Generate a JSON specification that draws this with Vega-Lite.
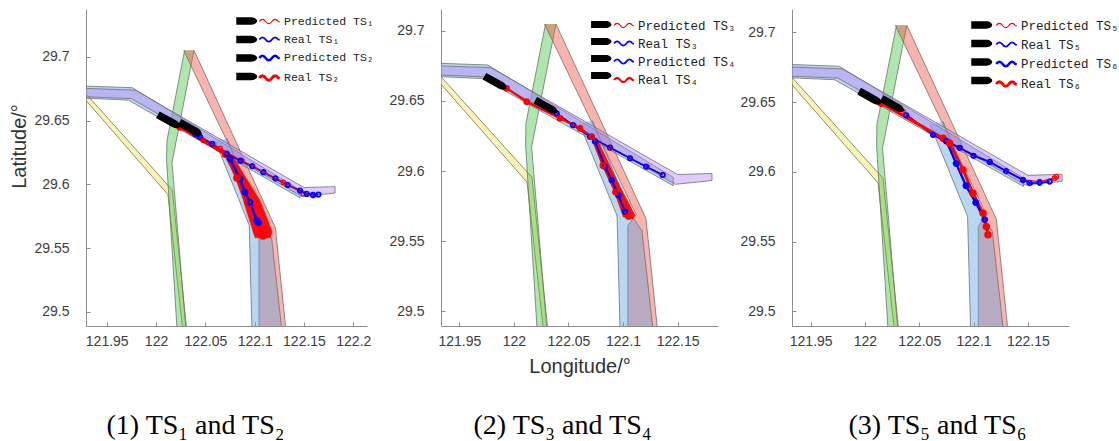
{
  "$schema": "https://vega.github.io/schema/vega-lite/v6.json",
  "background": "white",
  "padding": {"left": 9, "top": 9, "right": 0, "bottom": 0},
  "bounds": "flush",
  "spacing": 74,
  "config": {
    "view": {"stroke": null},
    "axis": {
      "grid": false,
      "domainColor": "#8c8c8c",
      "tickColor": "#8c8c8c",
      "tickSize": -4,
      "labelPadding": 12,
      "labelFont": "Liberation Sans",
      "labelFontSize": 14,
      "labelColor": "#3c3c3c",
      "labelOverlap": false,
      "labelFlush": false,
      "titleFont": "Liberation Sans",
      "titleFontSize": 20,
      "titleFontWeight": "normal",
      "titleColor": "#333333"
    },
    "legend": {"padding": 0, "rowPadding": 0, "offset": 0, "titlePadding": 0, "labelFont": "Liberation Mono", "labelFontSize": 12.5, "labelColor": "#222222"}
  },
  "datasets": {
    "channels": [
      {"id": "Y", "k": 1, "lon": 121.9, "lat": 29.696},
      {"id": "Y", "k": 2, "lon": 122.0165, "lat": 29.5955},
      {"id": "Y", "k": 3, "lon": 122.032, "lat": 29.48},
      {"id": "Y", "k": 4, "lon": 122.028, "lat": 29.48},
      {"id": "Y", "k": 5, "lon": 122.012, "lat": 29.592},
      {"id": "Y", "k": 6, "lon": 121.9, "lat": 29.6915},
      {"id": "G", "k": 1, "lon": 122.029, "lat": 29.705},
      {"id": "G", "k": 2, "lon": 122.011, "lat": 29.634},
      {"id": "G", "k": 3, "lon": 122.0107, "lat": 29.6187},
      {"id": "G", "k": 4, "lon": 122.0218, "lat": 29.48},
      {"id": "G", "k": 5, "lon": 122.031, "lat": 29.48},
      {"id": "G", "k": 6, "lon": 122.0162, "lat": 29.6171},
      {"id": "G", "k": 7, "lon": 122.0385, "lat": 29.705},
      {"id": "R", "k": 1, "lon": 122.028, "lat": 29.705},
      {"id": "R", "k": 2, "lon": 122.112, "lat": 29.569},
      {"id": "R", "k": 3, "lon": 122.1044, "lat": 29.561},
      {"id": "R", "k": 4, "lon": 122.1044, "lat": 29.48},
      {"id": "R", "k": 5, "lon": 122.1325, "lat": 29.48},
      {"id": "R", "k": 6, "lon": 122.121, "lat": 29.566},
      {"id": "R", "k": 7, "lon": 122.0385, "lat": 29.705},
      {"id": "B2", "k": 1, "lon": 122.06, "lat": 29.634},
      {"id": "B2", "k": 2, "lon": 122.0945, "lat": 29.568},
      {"id": "B2", "k": 3, "lon": 122.0975, "lat": 29.48},
      {"id": "B2", "k": 4, "lon": 122.1284, "lat": 29.48},
      {"id": "B2", "k": 5, "lon": 122.1173, "lat": 29.5573},
      {"id": "B2", "k": 6, "lon": 122.108, "lat": 29.568},
      {"id": "B2", "k": 7, "lon": 122.072, "lat": 29.636},
      {"id": "B1", "k": 1, "lon": 121.9, "lat": 29.6778},
      {"id": "B1", "k": 2, "lon": 121.976, "lat": 29.6757},
      {"id": "B1", "k": 3, "lon": 122.146, "lat": 29.5955},
      {"id": "B1", "k": 4, "lon": 122.146, "lat": 29.5895},
      {"id": "B1", "k": 5, "lon": 121.972, "lat": 29.666},
      {"id": "B1", "k": 6, "lon": 121.9, "lat": 29.6685},
      {"id": "V", "k": 1, "lon": 121.9, "lat": 29.676},
      {"id": "V", "k": 2, "lon": 121.979, "lat": 29.6738},
      {"id": "V", "k": 3, "lon": 122.15, "lat": 29.5975},
      {"id": "V", "k": 4, "lon": 122.1815, "lat": 29.5982},
      {"id": "V", "k": 5, "lon": 122.1815, "lat": 29.5932},
      {"id": "V", "k": 6, "lon": 122.148, "lat": 29.5905},
      {"id": "V", "k": 7, "lon": 121.975, "lat": 29.6672},
      {"id": "V", "k": 8, "lon": 121.9, "lat": 29.6695}
    ],
    "envelopes": [
      {"p": 1, "k": 1, "lon": 122.072, "lat": 29.6226},
      {"p": 1, "k": 2, "lon": 122.0771, "lat": 29.6226},
      {"p": 1, "k": 3, "lon": 122.1055, "lat": 29.5872},
      {"p": 1, "k": 4, "lon": 122.1177, "lat": 29.5628},
      {"p": 1, "k": 5, "lon": 122.1157, "lat": 29.5581},
      {"p": 1, "k": 6, "lon": 122.1004, "lat": 29.5581},
      {"p": 1, "k": 7, "lon": 122.0885, "lat": 29.5872},
      {"p": 2, "k": 1, "lon": 122.0713, "lat": 29.6234},
      {"p": 2, "k": 2, "lon": 122.0759, "lat": 29.6234},
      {"p": 2, "k": 3, "lon": 122.0942, "lat": 29.5936},
      {"p": 2, "k": 4, "lon": 122.1109, "lat": 29.5686},
      {"p": 2, "k": 5, "lon": 122.1091, "lat": 29.5658},
      {"p": 2, "k": 6, "lon": 122.1002, "lat": 29.5672},
      {"p": 2, "k": 7, "lon": 122.085, "lat": 29.6008}
    ],
    "tracks": [
      {"p": 1, "series": "Real TS₁", "k": 1, "lon": 122.04, "lat": 29.6392},
      {"p": 1, "series": "Real TS₁", "k": 2, "lon": 122.0448, "lat": 29.637},
      {"p": 1, "series": "Real TS₁", "k": 3, "lon": 122.057, "lat": 29.6318},
      {"p": 1, "series": "Real TS₁", "k": 4, "lon": 122.0717, "lat": 29.624},
      {"p": 1, "series": "Real TS₁", "k": 5, "lon": 122.0855, "lat": 29.6185},
      {"p": 1, "series": "Real TS₁", "k": 6, "lon": 122.0975, "lat": 29.6143},
      {"p": 1, "series": "Real TS₁", "k": 7, "lon": 122.1088, "lat": 29.6095},
      {"p": 1, "series": "Real TS₁", "k": 8, "lon": 122.121, "lat": 29.6047},
      {"p": 1, "series": "Real TS₁", "k": 9, "lon": 122.1335, "lat": 29.5995},
      {"p": 1, "series": "Real TS₁", "k": 10, "lon": 122.146, "lat": 29.5951},
      {"p": 1, "series": "Real TS₁", "k": 11, "lon": 122.1528, "lat": 29.5925},
      {"p": 1, "series": "Real TS₁", "k": 12, "lon": 122.159, "lat": 29.5918},
      {"p": 1, "series": "Real TS₁", "k": 13, "lon": 122.1646, "lat": 29.592},
      {"p": 1, "series": "Predicted TS₁", "k": 1, "lon": 122.028, "lat": 29.6445},
      {"p": 1, "series": "Predicted TS₁", "k": 2, "lon": 122.048, "lat": 29.6345},
      {"p": 1, "series": "Predicted TS₁", "k": 3, "lon": 122.065, "lat": 29.628},
      {"p": 1, "series": "Predicted TS₁", "k": 4, "lon": 122.087, "lat": 29.6185},
      {"p": 1, "series": "Predicted TS₁", "k": 5, "lon": 122.109, "lat": 29.6095},
      {"p": 1, "series": "Predicted TS₁", "k": 6, "lon": 122.129, "lat": 29.6016},
      {"p": 1, "series": "Predicted TS₁", "k": 7, "lon": 122.1494, "lat": 29.5928},
      {"p": 1, "series": "Predicted TS₁", "k": 8, "lon": 122.1595, "lat": 29.5912},
      {"p": 1, "series": "Real TS₂", "k": 1, "lon": 122.0243, "lat": 29.6449},
      {"p": 1, "series": "Real TS₂", "k": 2, "lon": 122.0705, "lat": 29.6235},
      {"p": 1, "series": "Real TS₂", "k": 3, "lon": 122.082, "lat": 29.605},
      {"p": 1, "series": "Real TS₂", "k": 4, "lon": 122.0945, "lat": 29.585},
      {"p": 1, "series": "Real TS₂", "k": 5, "lon": 122.1085, "lat": 29.5595},
      {"p": 1, "series": "Predicted TS₂", "k": 1, "lon": 122.075, "lat": 29.62},
      {"p": 1, "series": "Predicted TS₂", "k": 2, "lon": 122.0852, "lat": 29.6043},
      {"p": 1, "series": "Predicted TS₂", "k": 3, "lon": 122.0902, "lat": 29.5937},
      {"p": 1, "series": "Predicted TS₂", "k": 4, "lon": 122.0953, "lat": 29.5859},
      {"p": 1, "series": "Predicted TS₂", "k": 5, "lon": 122.1021, "lat": 29.5715},
      {"p": 1, "series": "Predicted TS₂", "k": 6, "lon": 122.1037, "lat": 29.5701},
      {"p": 2, "series": "Predicted TS₃", "k": 1, "lon": 122.0392, "lat": 29.6412},
      {"p": 2, "series": "Predicted TS₃", "k": 2, "lon": 122.055, "lat": 29.6325},
      {"p": 2, "series": "Predicted TS₃", "k": 3, "lon": 122.0697, "lat": 29.6245},
      {"p": 2, "series": "Predicted TS₃", "k": 4, "lon": 122.088, "lat": 29.6165},
      {"p": 2, "series": "Predicted TS₃", "k": 5, "lon": 122.1064, "lat": 29.6091},
      {"p": 2, "series": "Predicted TS₃", "k": 6, "lon": 122.122, "lat": 29.6028},
      {"p": 2, "series": "Predicted TS₃", "k": 7, "lon": 122.1363, "lat": 29.5972},
      {"p": 2, "series": "Real TS₃", "k": 1, "lon": 122.0392, "lat": 29.6412},
      {"p": 2, "series": "Real TS₃", "k": 2, "lon": 122.054, "lat": 29.6328},
      {"p": 2, "series": "Real TS₃", "k": 3, "lon": 122.0697, "lat": 29.6245},
      {"p": 2, "series": "Real TS₃", "k": 4, "lon": 122.088, "lat": 29.6168},
      {"p": 2, "series": "Real TS₃", "k": 5, "lon": 122.1064, "lat": 29.6091},
      {"p": 2, "series": "Real TS₃", "k": 6, "lon": 122.121, "lat": 29.6032},
      {"p": 2, "series": "Real TS₃", "k": 7, "lon": 122.1363, "lat": 29.5972},
      {"p": 2, "series": "Real TS₄", "k": 1, "lon": 121.9934, "lat": 29.6591},
      {"p": 2, "series": "Real TS₄", "k": 2, "lon": 122.0117, "lat": 29.6495},
      {"p": 2, "series": "Real TS₄", "k": 3, "lon": 122.0422, "lat": 29.6377},
      {"p": 2, "series": "Real TS₄", "k": 4, "lon": 122.0606, "lat": 29.6305},
      {"p": 2, "series": "Real TS₄", "k": 5, "lon": 122.0713, "lat": 29.6245},
      {"p": 2, "series": "Real TS₄", "k": 6, "lon": 122.0815, "lat": 29.604},
      {"p": 2, "series": "Real TS₄", "k": 7, "lon": 122.093, "lat": 29.585},
      {"p": 2, "series": "Real TS₄", "k": 8, "lon": 122.105, "lat": 29.5675},
      {"p": 2, "series": "Predicted TS₄", "k": 1, "lon": 122.0743, "lat": 29.6212},
      {"p": 2, "series": "Predicted TS₄", "k": 2, "lon": 122.0835, "lat": 29.6031},
      {"p": 2, "series": "Predicted TS₄", "k": 3, "lon": 122.0896, "lat": 29.5936},
      {"p": 2, "series": "Predicted TS₄", "k": 4, "lon": 122.0956, "lat": 29.5829},
      {"p": 2, "series": "Predicted TS₄", "k": 5, "lon": 122.1018, "lat": 29.571},
      {"p": 3, "series": "Predicted TS₅", "k": 1, "lon": 122.035, "lat": 29.6432},
      {"p": 3, "series": "Predicted TS₅", "k": 2, "lon": 122.0627, "lat": 29.6265},
      {"p": 3, "series": "Predicted TS₅", "k": 3, "lon": 122.0872, "lat": 29.6172},
      {"p": 3, "series": "Predicted TS₅", "k": 4, "lon": 122.1149, "lat": 29.6071},
      {"p": 3, "series": "Predicted TS₅", "k": 5, "lon": 122.1455, "lat": 29.5942},
      {"p": 3, "series": "Predicted TS₅", "k": 6, "lon": 122.1609, "lat": 29.593},
      {"p": 3, "series": "Predicted TS₅", "k": 7, "lon": 122.1747, "lat": 29.5955},
      {"p": 3, "series": "Predicted TS₅", "k": 8, "lon": 122.1763, "lat": 29.5966},
      {"p": 3, "series": "Real TS₅", "k": 1, "lon": 122.038, "lat": 29.6405},
      {"p": 3, "series": "Real TS₅", "k": 2, "lon": 122.0627, "lat": 29.6265},
      {"p": 3, "series": "Real TS₅", "k": 3, "lon": 122.075, "lat": 29.622},
      {"p": 3, "series": "Real TS₅", "k": 4, "lon": 122.0872, "lat": 29.6172},
      {"p": 3, "series": "Real TS₅", "k": 5, "lon": 122.1, "lat": 29.6115},
      {"p": 3, "series": "Real TS₅", "k": 6, "lon": 122.1149, "lat": 29.6071},
      {"p": 3, "series": "Real TS₅", "k": 7, "lon": 122.13, "lat": 29.6005},
      {"p": 3, "series": "Real TS₅", "k": 8, "lon": 122.1455, "lat": 29.5942},
      {"p": 3, "series": "Real TS₅", "k": 9, "lon": 122.1517, "lat": 29.5919},
      {"p": 3, "series": "Real TS₅", "k": 10, "lon": 122.1609, "lat": 29.5921},
      {"p": 3, "series": "Real TS₅", "k": 11, "lon": 122.1701, "lat": 29.593},
      {"p": 3, "series": "Real TS₆", "k": 1, "lon": 122.0151, "lat": 29.6492},
      {"p": 3, "series": "Real TS₆", "k": 2, "lon": 122.072, "lat": 29.624},
      {"p": 3, "series": "Real TS₆", "k": 3, "lon": 122.078, "lat": 29.6205},
      {"p": 3, "series": "Real TS₆", "k": 4, "lon": 122.0903, "lat": 29.6014},
      {"p": 3, "series": "Real TS₆", "k": 5, "lon": 122.0995, "lat": 29.5847},
      {"p": 3, "series": "Real TS₆", "k": 6, "lon": 122.1087, "lat": 29.5704},
      {"p": 3, "series": "Real TS₆", "k": 7, "lon": 122.1118, "lat": 29.5608},
      {"p": 3, "series": "Real TS₆", "k": 8, "lon": 122.1133, "lat": 29.5549},
      {"p": 3, "series": "Predicted TS₆", "k": 1, "lon": 122.075, "lat": 29.622},
      {"p": 3, "series": "Predicted TS₆", "k": 2, "lon": 122.084, "lat": 29.606},
      {"p": 3, "series": "Predicted TS₆", "k": 3, "lon": 122.093, "lat": 29.59},
      {"p": 3, "series": "Predicted TS₆", "k": 4, "lon": 122.102, "lat": 29.578},
      {"p": 3, "series": "Predicted TS₆", "k": 5, "lon": 122.1103, "lat": 29.5657}
    ],
    "ships": [
      {"p": 1, "ship": "R1", "lon": 122.0353, "lat": 29.6436},
      {"p": 1, "ship": "R2", "lon": 122.0134, "lat": 29.6496},
      {"p": 2, "ship": "R1", "lon": 122.03, "lat": 29.646},
      {"p": 2, "ship": "R2", "lon": 121.9834, "lat": 29.6632},
      {"p": 3, "ship": "R1", "lon": 122.0258, "lat": 29.648},
      {"p": 3, "ship": "R2", "lon": 122.0051, "lat": 29.6533}
    ]
  },
  "resolve": {
    "scale": {"x": "independent", "y": "independent", "color": "independent", "fill": "independent", "strokeWidth": "independent"},
    "legend": {"color": "independent", "fill": "independent"}
  },
  "hconcat": [
    {
      "width": 281,
      "height": 317,
      "title": {"text": "(1) TS₁ and TS₂", "orient": "bottom", "font": "Liberation Serif", "fontSize": 28, "fontWeight": "normal", "color": "#000000", "dx": -31, "offset": 64},
      "resolve": {"scale": {"fill": "independent"}},
      "layer": [
        {
          "data": {"name": "channels"},
          "mark": {"type": "line", "clip": true, "fillOpacity": 0.42, "stroke": "#707070", "strokeWidth": 0.8},
          "encoding": {
            "x": {"field": "lon", "type": "quantitative", "scale": {"domain": [121.929, 122.2139], "nice": false, "zero": false},
                  "axis": {"title": null, "values": [121.95, 122, 122.05, 122.1, 122.15, 122.2], "format": "~g"}},
            "y": {"field": "lat", "type": "quantitative", "scale": {"domain": [29.489, 29.7374], "nice": false, "zero": false},
                  "axis": {"title": "Latitude/°", "values": [29.5, 29.55, 29.6, 29.65, 29.7], "format": "~g", "labelPadding": 21, "titlePadding": 4, "titleY": 137}},
            "detail": {"field": "id"},
            "order": {"field": "k"},
            "fill": {"field": "id", "type": "nominal", "legend": null,
                     "scale": {"domain": ["Y", "G", "R", "B2", "B1", "V"], "range": ["#f2e44a", "#3ec43e", "#f24b3c", "#5a9fe0", "#5a9fe0", "#b884f2"]}}
          }
        },
        {
          "data": {"name": "envelopes"},
          "transform": [{"filter": "datum.p == 1"}],
          "mark": {"type": "line", "clip": true, "fill": "#ff0000", "fillOpacity": 0.95, "stroke": "#ff0000", "strokeWidth": 0.5},
          "encoding": {"x": {"field": "lon", "type": "quantitative"}, "y": {"field": "lat", "type": "quantitative"}, "order": {"field": "k"}}
        },
        {
          "data": {"name": "tracks"},
          "transform": [{"filter": "datum.p == 1"}],
          "mark": {"type": "line", "clip": true, "point": {"filled": false, "size": 20}},
          "encoding": {
            "x": {"field": "lon", "type": "quantitative"},
            "y": {"field": "lat", "type": "quantitative"},
            "order": {"field": "k"},
            "color": {"field": "series", "type": "nominal",
                      "scale": {"domain": ["Predicted TS₁", "Real TS₁", "Predicted TS₂", "Real TS₂"], "range": ["#ff0000", "#0000ff", "#0000ff", "#ff0000"]},
                      "legend": {"title": null, "orient": "none", "legendX": 172, "legendY": 2, "rowPadding": 1.5, "symbolType": "M-1.05,0 C-0.85,-0.3 -0.6,-0.3 -0.4,0 C-0.2,0.3 0.05,0.3 0.25,0 C0.45,-0.3 0.7,-0.3 0.9,0 L1.05,0.03", "symbolSize": 380, "symbolStrokeWidth": 1.1, "symbolFillColor": "transparent", "labelFont": "Liberation Mono", "labelFontSize": 11.5, "labelOffset": 3}},
            "strokeWidth": {"field": "series", "type": "nominal", "legend": null,
                            "scale": {"domain": ["Predicted TS₁", "Real TS₁", "Predicted TS₂", "Real TS₂"], "range": [1.2, 3, 1.5, 1.2]}}
          }
        },
        {
          "data": {"name": "ships"},
          "transform": [{"filter": "datum.p == 1"}],
          "mark": {"type": "point", "filled": true, "clip": true, "size": 560, "angle": 29, "opacity": 1, "strokeWidth": 0,
                   "shape": "M-1.1,-0.32 L0.5,-0.32 C0.8,-0.32 1.05,-0.1 1.05,0 C1.05,0.1 0.8,0.32 0.5,0.32 L-1.1,0.32 Z"},
          "encoding": {
            "x": {"field": "lon", "type": "quantitative"},
            "y": {"field": "lat", "type": "quantitative"},
            "fill": {"field": "ship", "type": "nominal",
                     "scale": {"domain": ["P1", "R1", "P2", "R2"], "range": ["#000000", "#000000", "#000000", "#000000"]},
                     "legend": {"title": null, "orient": "none", "legendX": 151, "legendY": 2, "rowPadding": 1.5, "symbolType": "M-1.1,-0.38 L0.45,-0.38 C0.8,-0.38 1.05,-0.15 1.05,0 C1.05,0.15 0.8,0.38 0.45,0.38 L-1.1,0.38 Z", "symbolSize": 380, "symbolStrokeWidth": 0, "symbolOpacity": 1, "labelExpr": "''", "labelOffset": 0}}
          }
        }
      ]
    },
    {
      "width": 277,
      "height": 317,
      "title": {"text": "(2) TS₃ and TS₄", "orient": "bottom", "font": "Liberation Serif", "fontSize": 28, "fontWeight": "normal", "color": "#000000", "dx": -17, "offset": 36},
      "resolve": {"scale": {"fill": "independent"}},
      "layer": [
        {
          "data": {"name": "channels"},
          "mark": {"type": "line", "clip": true, "fillOpacity": 0.42, "stroke": "#707070", "strokeWidth": 0.8},
          "encoding": {
            "x": {"field": "lon", "type": "quantitative", "scale": {"domain": [121.9332, 122.187], "nice": false, "zero": false},
                  "axis": {"title": "Longitude/°", "values": [121.95, 122, 122.05, 122.1, 122.15], "format": "~g", "titlePadding": 8}},
            "y": {"field": "lat", "type": "quantitative", "scale": {"domain": [29.4893, 29.7157], "nice": false, "zero": false},
                  "axis": {"title": null, "values": [29.5, 29.55, 29.6, 29.65, 29.7], "format": "~g", "labelPadding": 21}},
            "detail": {"field": "id"},
            "order": {"field": "k"},
            "fill": {"field": "id", "type": "nominal", "legend": null,
                     "scale": {"domain": ["Y", "G", "R", "B2", "B1", "V"], "range": ["#f2e44a", "#3ec43e", "#f24b3c", "#5a9fe0", "#5a9fe0", "#b884f2"]}}
          }
        },
        {
          "data": {"name": "envelopes"},
          "transform": [{"filter": "datum.p == 2"}],
          "mark": {"type": "line", "clip": true, "fill": "#ff0000", "fillOpacity": 0.95, "stroke": "#ff0000", "strokeWidth": 0.5},
          "encoding": {"x": {"field": "lon", "type": "quantitative"}, "y": {"field": "lat", "type": "quantitative"}, "order": {"field": "k"}}
        },
        {
          "data": {"name": "tracks"},
          "transform": [{"filter": "datum.p == 2"}],
          "mark": {"type": "line", "clip": true, "point": {"filled": false, "size": 20}},
          "encoding": {
            "x": {"field": "lon", "type": "quantitative"},
            "y": {"field": "lat", "type": "quantitative"},
            "order": {"field": "k"},
            "color": {"field": "series", "type": "nominal",
                      "scale": {"domain": ["Predicted TS₃", "Real TS₃", "Predicted TS₄", "Real TS₄"], "range": ["#ff0000", "#0000ff", "#0000ff", "#ff0000"]},
                      "legend": {"title": null, "orient": "none", "legendX": 172, "legendY": 6, "rowPadding": 1, "symbolType": "M-1.05,0 C-0.85,-0.3 -0.6,-0.3 -0.4,0 C-0.2,0.3 0.05,0.3 0.25,0 C0.45,-0.3 0.7,-0.3 0.9,0 L1.05,0.03", "symbolSize": 360, "symbolStrokeWidth": 1.1, "symbolFillColor": "transparent", "labelFont": "Liberation Mono", "labelFontSize": 12.5, "labelOffset": 3}},
            "strokeWidth": {"field": "series", "type": "nominal", "legend": null,
                            "scale": {"domain": ["Predicted TS₃", "Real TS₃", "Predicted TS₄", "Real TS₄"], "range": [1.2, 2.2, 1.5, 1.2]}}
          }
        },
        {
          "data": {"name": "ships"},
          "transform": [{"filter": "datum.p == 2"}],
          "mark": {"type": "point", "filled": true, "clip": true, "size": 560, "angle": 29, "opacity": 1, "strokeWidth": 0,
                   "shape": "M-1.1,-0.32 L0.5,-0.32 C0.8,-0.32 1.05,-0.1 1.05,0 C1.05,0.1 0.8,0.32 0.5,0.32 L-1.1,0.32 Z"},
          "encoding": {
            "x": {"field": "lon", "type": "quantitative"},
            "y": {"field": "lat", "type": "quantitative"},
            "fill": {"field": "ship", "type": "nominal",
                     "scale": {"domain": ["P1", "R1", "P2", "R2"], "range": ["#000000", "#000000", "#000000", "#000000"]},
                     "legend": {"title": null, "orient": "none", "legendX": 151, "legendY": 6, "rowPadding": 1, "symbolType": "M-1.1,-0.38 L0.45,-0.38 C0.8,-0.38 1.05,-0.15 1.05,0 C1.05,0.15 0.8,0.38 0.45,0.38 L-1.1,0.38 Z", "symbolSize": 360, "symbolStrokeWidth": 0, "symbolOpacity": 1, "labelExpr": "''", "labelOffset": 0}}
          }
        }
      ]
    },
    {
      "width": 277,
      "height": 317,
      "title": {"text": "(3) TS₅ and TS₆", "orient": "bottom", "font": "Liberation Serif", "fontSize": 28, "fontWeight": "normal", "color": "#000000", "dx": 7, "offset": 64},
      "resolve": {"scale": {"fill": "independent"}},
      "layer": [
        {
          "data": {"name": "channels"},
          "mark": {"type": "line", "clip": true, "fillOpacity": 0.42, "stroke": "#707070", "strokeWidth": 0.8},
          "encoding": {
            "x": {"field": "lon", "type": "quantitative", "scale": {"domain": [121.9328, 122.1879], "nice": false, "zero": false},
                  "axis": {"title": null, "values": [121.95, 122, 122.05, 122.1, 122.15], "format": "~g"}},
            "y": {"field": "lat", "type": "quantitative", "scale": {"domain": [29.4895, 29.7167], "nice": false, "zero": false},
                  "axis": {"title": null, "values": [29.5, 29.55, 29.6, 29.65, 29.7], "format": "~g", "labelPadding": 21}},
            "detail": {"field": "id"},
            "order": {"field": "k"},
            "fill": {"field": "id", "type": "nominal", "legend": null,
                     "scale": {"domain": ["Y", "G", "R", "B2", "B1", "V"], "range": ["#f2e44a", "#3ec43e", "#f24b3c", "#5a9fe0", "#5a9fe0", "#b884f2"]}}
          }
        },
        {
          "data": {"name": "tracks"},
          "transform": [{"filter": "datum.p == 3"}],
          "mark": {"type": "line", "clip": true, "point": {"filled": false, "size": 20}},
          "encoding": {
            "x": {"field": "lon", "type": "quantitative"},
            "y": {"field": "lat", "type": "quantitative"},
            "order": {"field": "k"},
            "color": {"field": "series", "type": "nominal",
                      "scale": {"domain": ["Predicted TS₅", "Real TS₅", "Predicted TS₆", "Real TS₆"], "range": ["#ff0000", "#0000ff", "#0000ff", "#ff0000"]},
                      "legend": {"title": null, "orient": "none", "legendX": 203, "legendY": 6, "rowPadding": 1.5, "symbolType": "M-1.05,0 C-0.85,-0.3 -0.6,-0.3 -0.4,0 C-0.2,0.3 0.05,0.3 0.25,0 C0.45,-0.3 0.7,-0.3 0.9,0 L1.05,0.03", "symbolSize": 380, "symbolStrokeWidth": 1.1, "symbolFillColor": "transparent", "labelFont": "Liberation Mono", "labelFontSize": 12.5, "labelOffset": 3}},
            "strokeWidth": {"field": "series", "type": "nominal", "legend": null,
                            "scale": {"domain": ["Predicted TS₅", "Real TS₅", "Predicted TS₆", "Real TS₆"], "range": [1.2, 3, 1.5, 2.5]}}
          }
        },
        {
          "data": {"name": "ships"},
          "transform": [{"filter": "datum.p == 3"}],
          "mark": {"type": "point", "filled": true, "clip": true, "size": 560, "angle": 29, "opacity": 1, "strokeWidth": 0,
                   "shape": "M-1.1,-0.32 L0.5,-0.32 C0.8,-0.32 1.05,-0.1 1.05,0 C1.05,0.1 0.8,0.32 0.5,0.32 L-1.1,0.32 Z"},
          "encoding": {
            "x": {"field": "lon", "type": "quantitative"},
            "y": {"field": "lat", "type": "quantitative"},
            "fill": {"field": "ship", "type": "nominal",
                     "scale": {"domain": ["P1", "R1", "P2", "R2"], "range": ["#000000", "#000000", "#000000", "#000000"]},
                     "legend": {"title": null, "orient": "none", "legendX": 180, "legendY": 6, "rowPadding": 1.5, "symbolType": "M-1.1,-0.38 L0.45,-0.38 C0.8,-0.38 1.05,-0.15 1.05,0 C1.05,0.15 0.8,0.38 0.45,0.38 L-1.1,0.38 Z", "symbolSize": 380, "symbolStrokeWidth": 0, "symbolOpacity": 1, "labelExpr": "''", "labelOffset": 0}}
          }
        }
      ]
    }
  ]
}
